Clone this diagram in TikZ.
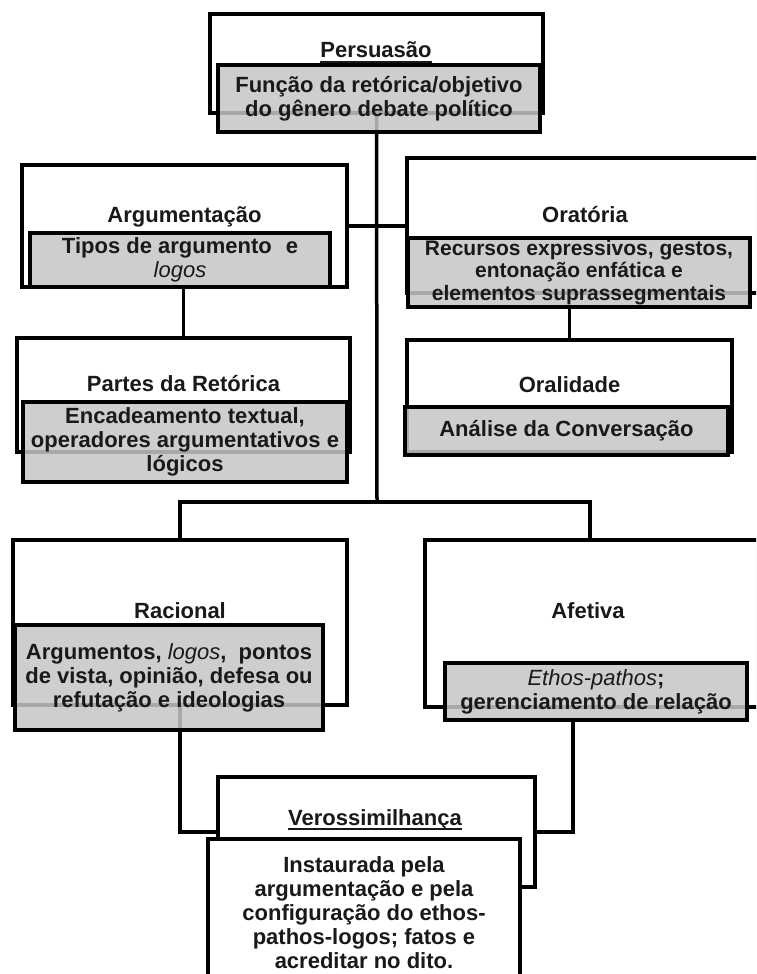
\documentclass[tikz,border=0pt]{standalone}
\usepackage{fontspec}
\setmainfont{Liberation Sans}
\usetikzlibrary{shadows}
\pgfdeclarelayer{background}
\pgfsetlayers{background,main}
\newcommand{\ulname}[1]{\setbox0=\hbox{#1}\rlap{\vrule height -3pt depth 4.6pt width \wd0}\box0}

\begin{document}
\begin{tikzpicture}[x=1pt, y=-1pt, every node/.style={font=\bfseries\fontsize{22}{24}\selectfont, text=black!90}, box/.style={draw=black, line width=3.5pt, fill=white, inner sep=0pt, drop shadow={shadow xshift=2pt, shadow yshift=-2pt, opacity=.3}}, graybox/.style={draw=black, line width=3.5pt, fill=gray!45, fill opacity=.85, text opacity=1, inner sep=0pt, align=center}, title/.style={anchor=base}, link/.style={line width=3.5pt}]
	\useasboundingbox (0,0) rectangle (756,974);
	\clip (0,0) rectangle (756,974);
	\node[box, minimum width=333, minimum height=99] (persOut) at (376.5,63.5) {};
	\node[box, minimum width=325, minimum height=122] (argOut) at (184.5,226) {};
	\node[box, minimum width=373, minimum height=135] (oraOut) at (593.5,225.5) {};
	\node[box, minimum width=333, minimum height=114] (partOut) at (183.5,395) {};
	\node[box, minimum width=325, minimum height=112] (oraliOut) at (569.5,396) {};
	\node[box, minimum width=334, minimum height=165] (racOut) at (180,622.5) {};
	\node[box, minimum width=345, minimum height=167] (afeOut) at (597.5,623.5) {};
	\node[box, minimum width=317, minimum height=110] (verOut) at (376.5,832) {};
	\node[graybox, minimum width=322, minimum height=67] (persTxt) at (379,98.5) {Função da retórica/objetivo\\do gênero debate político};
	\node[graybox, minimum width=300, minimum height=54] (argTxt) at (180,260) {Tipos de argumento\hspace{14pt}e\\\textmd{\textit{logos}}};
	\node[graybox, minimum width=342, minimum height=69, font=\bfseries\fontsize{21}{22.5}\selectfont] (oraTxt) at (579,272.5) {Recursos expressivos, gestos,\\entonação enfática e\\elementos suprassegmentais};
	\node[graybox, minimum width=324, minimum height=80] (partTxt) at (185,442) {Encadeamento textual,\\operadores argumentativos e\\lógicos};
	\node[graybox, minimum width=323, minimum height=48] (oraliTxt) at (566.5,431) {Análise da Conversação};
	\node[graybox, minimum width=308, minimum height=105] (racTxt) at (169,677.5) {Argumentos, \textmd{\textit{logos}},\ \ pontos\\de vista, opinião, defesa ou\\refutação e ideologias};
	\node[graybox, minimum width=302, minimum height=57] (afeTxt) at (596,691.5) {\textmd{\textit{Ethos-pathos}};\\gerenciamento de relação};
	\node[box, align=center, minimum width=312, inner ysep=18pt, anchor=north] (verTxt) at (364,837) {Instaurada pela\\argumentação e pela\\configuração do ethos-\\pathos-logos; fatos e\\acreditar no dito.};
	\node[title] (persTit) at (376,58) {\ulname{Persuasão}};
	\node[title] (argTit) at (184.5,222) {Argumentação};
	\node[title] (oraTit) at (585,222) {Oratória};
	\node[title] (partTit) at (183.5,391) {Partes da Retórica};
	\node[title] (oraliTit) at (569.5,392) {Oralidade};
	\node[title] (racTit) at (180,618) {Racional};
	\node[title] (afeTit) at (588,618) {Afetiva};
	\node[title] (verTit) at (375,825) {\ulname{Verossimilhança}};
	\begin{pgfonlayer}{background}
		\fill[white] (0,0) rectangle (756,974);
		\coordinate (split) at (377,502);
		\draw[link] (persOut.south) -- (split);
		\draw[link] (argOut.east) -- (argOut.east -| oraOut.west);
		\draw[link] (argTxt.south -| partOut.north) -- (partOut.north);
		\draw[link] (oraTxt.south -| oraliOut.north) -- (oraliOut.north);
		\draw[link] (racOut.north) |- (split) -| ([xshift=-7.5pt]afeOut.north);
		\draw[link] (racOut.south) |- (verOut.west);
		\draw[link] ([xshift=-23pt]afeTxt.south) |- (verOut.east);
	\end{pgfonlayer}
\end{tikzpicture}
\end{document}
